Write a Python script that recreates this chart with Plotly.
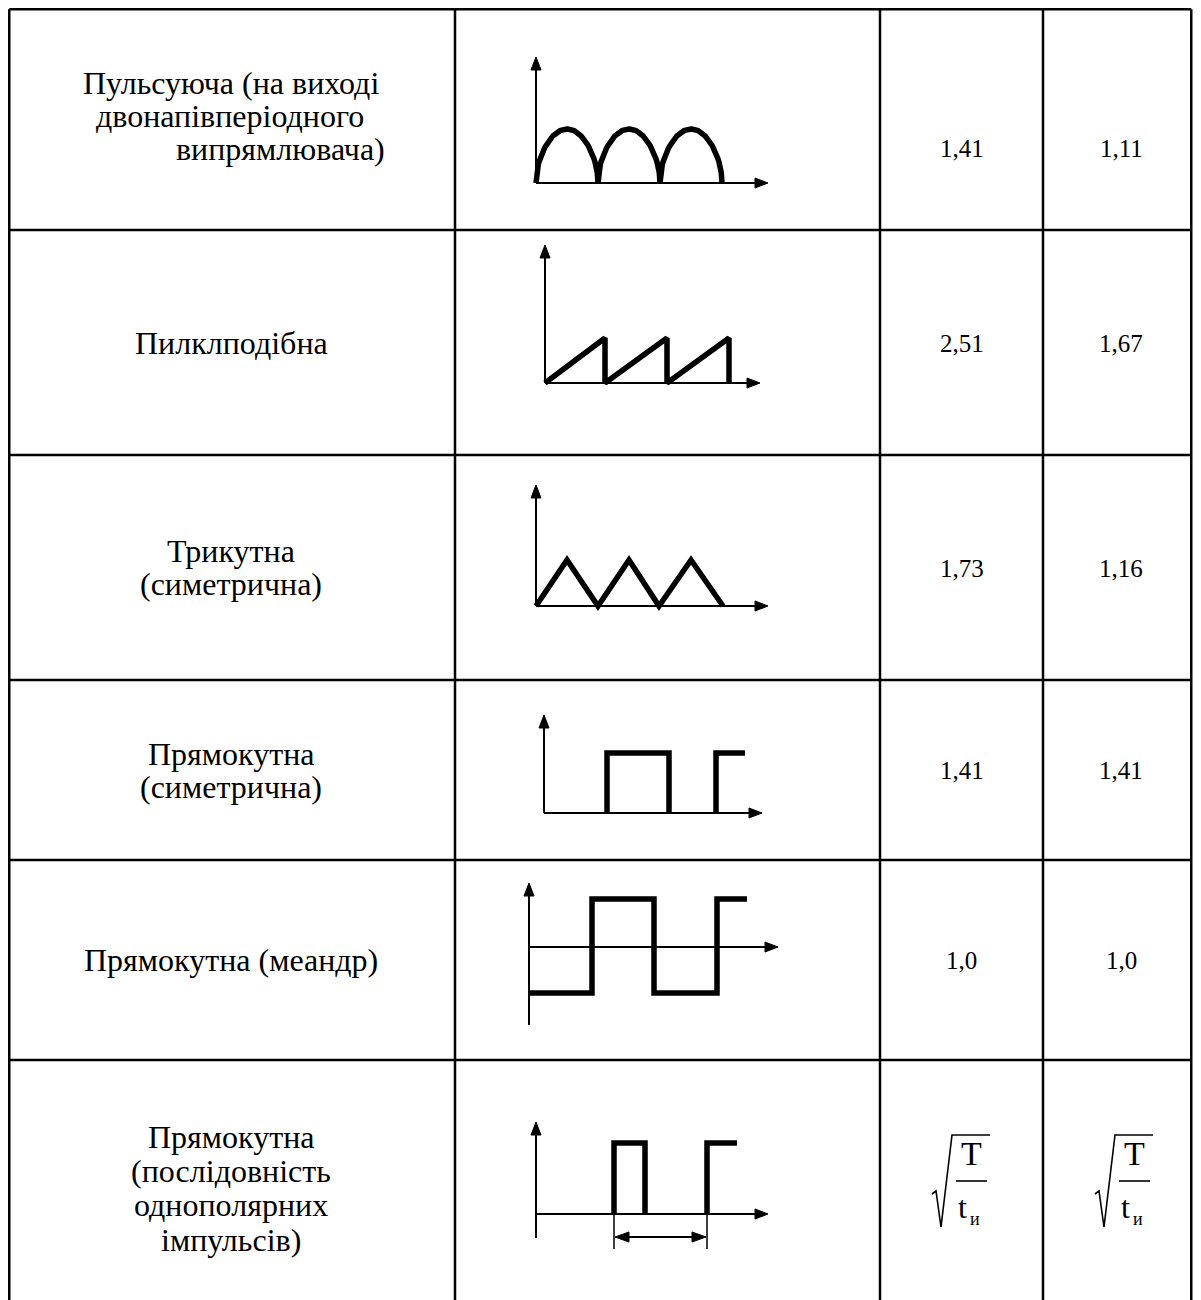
import numpy as np
import plotly.graph_objects as go

W, H = 1201, 1300
OFF = 8          # page body margin; axes ranges are shifted so data coords = page pixels
VISIBLE_R = 1193  # right edge of what the window shows
FIG_H = H - OFF
FONT = "Liberation Serif, Times New Roman, serif"

# ---- table grid ----
col_x = [8, 455, 880, 1043, 1199]
row_y = [7, 230, 455, 680, 860, 1060]

# ---- text content ----
label_lines = [
    ["Пульсуюча (на виході", "двонапівперіодного", "випрямлювача)"],
    ["Пилклподібна"],
    ["Трикутна", "(симетрична)"],
    ["Прямокутна", "(симетрична)"],
    ["Прямокутна (меандр)"],
    ["Прямокутна", "(послідовність", "однополярних", "імпульсів)"],
]
label_x = [[231, 230, 280], [231], [231, 231], [231, 231], [231], [231, 231, 231, 231]]
label_y = [[83, 116, 149], [343], [551, 584], [754, 787], [960], [1137, 1171, 1205, 1240]]

crest_factor = ["1,41", "2,51", "1,73", "1,41", "1,0", "sqrt"]
form_factor = ["1,11", "1,67", "1,16", "1,41", "1,0", "sqrt"]
value_y = [148, 343, 568, 770, 960, 1180]
sqrt_cx = [961, 1124]

# ---- waveform cell geometry ----
wave_origin_x = [536, 545, 536, 544, 529, 536]
wave_base_y = [183, 383, 606, 813, 947, 1214]
wave_ytip = [57, 245, 485, 715, 883, 1122]
wave_xtip = [768, 760, 768, 762, 778, 768]
wave_ybottom = [183, 383, 606, 813, 1025, 1238]

# waveform vertices (t: px right of origin, v: px above baseline)
saw_t = [0, 60, 60, 60, 122, 122, 122, 184, 184]
saw_v = [0, 45, 0, 0, 45, 0, 0, 45, 0]
tri_t = [0, 31, 62, 93, 123, 155, 187]
tri_v = [0, 46, 0, 46, 0, 46, 0]
rect_t = [63, 63, 125, 125, None, 172, 172, 201]
rect_v = [0, 60, 60, 0, None, 0, 60, 60]
mea_t = [0, 63, 63, 125, 125, 188, 188, 218]
mea_v = [-46, -46, 48, 48, -46, -46, 48, 48]
pulse_t = [78, 78, 109, 109, None, 171, 171, 201]
pulse_v = [0, 71, 71, 0, None, 0, 71, 71]

fig = go.Figure()

def line(xs, ys, width=2, color="black"):
    fig.add_trace(go.Scatter(x=xs, y=ys, mode="lines", line=dict(color=color, width=width),
                             hoverinfo="skip", showlegend=False, connectgaps=False))

def tri(tipx, tipy, dx, dy, length=13, half=5):
    n = np.hypot(dx, dy)
    ux, uy = dx / n, dy / n
    bx, by = tipx - ux * length, tipy - uy * length
    px, py = -uy, ux
    fig.add_trace(go.Scatter(x=[tipx, bx + px * half, bx - px * half, tipx],
                             y=[tipy, by + py * half, by - py * half, tipy],
                             mode="lines", fill="toself", fillcolor="black",
                             line=dict(color="black", width=1), hoverinfo="skip", showlegend=False))

def shifted(ts, vs, ox, by):
    xs = [None if t is None else ox + t for t in ts]
    ys = [None if v is None else by - v for v in vs]
    return xs, ys

# table lines (outer edges nudged inside the visible area)
LW = 2.5
def clamp_x(x):
    return min(max(x, OFF + LW / 2), VISIBLE_R - LW / 2 - 0.5)
y_top = max(row_y[0], OFF + LW / 2)
for x in col_x:
    xx = clamp_x(x)
    line([xx, xx], [y_top, H], width=LW)
for y in row_y:
    yy = max(y, OFF + LW / 2)
    line([clamp_x(col_x[0]), clamp_x(col_x[-1])], [yy, yy], width=LW)

# axes in each waveform cell
for i in range(6):
    ox, by = wave_origin_x[i], wave_base_y[i]
    line([ox, ox], [wave_ybottom[i], wave_ytip[i] + 8], width=2)
    tri(ox, wave_ytip[i], 0, -1)
    line([ox, wave_xtip[i] - 8], [by, by], width=2)
    tri(wave_xtip[i], by, 1, 0)

TH = 5.5
# row 1: full-wave rectified
half_period = 62
tt = np.linspace(0, 3, 241)
v = 54 * np.abs(np.sin(np.pi * tt)) ** 0.5
line(wave_origin_x[0] + tt * half_period, wave_base_y[0] - v, width=TH)
line(*shifted(saw_t, saw_v, wave_origin_x[1], wave_base_y[1]), width=TH)
line(*shifted(tri_t, tri_v, wave_origin_x[2], wave_base_y[2]), width=TH)
line(*shifted(rect_t, rect_v, wave_origin_x[3], wave_base_y[3]), width=TH)
line(*shifted(mea_t, mea_v, wave_origin_x[4], wave_base_y[4]), width=TH)
line(*shifted(pulse_t, pulse_v, wave_origin_x[5], wave_base_y[5]), width=TH)

# dimension lines (row 6)
x1, x2 = wave_origin_x[5] + pulse_t[0], wave_origin_x[5] + pulse_t[5]
line([x1, x1], [wave_base_y[5], 1249], width=1.5)
line([x2, x2], [wave_base_y[5], 1249], width=1.5)
line([x1 + 10, x2 - 10], [1237, 1237], width=2)
tri(x1 + 1, 1237, -1, 0, length=14, half=5)
tri(x2 - 1, 1237, 1, 0, length=14, half=5)

annotations = []

def text(x, y, s, size=25):
    annotations.append(dict(x=x, y=y, xref="x", yref="y", text=s, showarrow=False,
                            font=dict(family=FONT, size=size, color="black"),
                            xanchor="center", yanchor="middle"))

for i, lines_ in enumerate(label_lines):
    for s, lx, ly in zip(lines_, label_x[i], label_y[i]):
        text(lx, ly, s, size=32)

def sqrt_formula(cx, cy):
    line([cx - 29, cx - 25, cx - 20, cx - 9, cx + 29],
         [cy + 14, cy + 11, cy + 47, cy - 45, cy - 45], width=1.6)
    line([cx - 5, cx + 26], [cy + 1, cy + 1], width=1.6)
    text(cx + 10, cy - 27, "T", size=34)
    text(cx + 1, cy + 27, "t", size=32)
    text(cx + 14, cy + 39, "и", size=18)

centers = [(col_x[2] + col_x[3]) / 2, (col_x[3] + col_x[4]) / 2]
for i in range(6):
    for k, (vals, cx) in enumerate(zip([crest_factor, form_factor], centers)):
        if vals[i] == "sqrt":
            sqrt_formula(sqrt_cx[k], value_y[i])
        else:
            text(cx, value_y[i], vals[i])

fig.update_layout(
    width=W - OFF, height=FIG_H, margin=dict(l=0, r=0, t=0, b=0),
    paper_bgcolor="white", plot_bgcolor="white",
    xaxis=dict(range=[OFF, W], visible=False, fixedrange=True),
    yaxis=dict(range=[OFF + FIG_H, OFF], visible=False, fixedrange=True),
    annotations=annotations, showlegend=False,
)
fig.write_html("out.html")
